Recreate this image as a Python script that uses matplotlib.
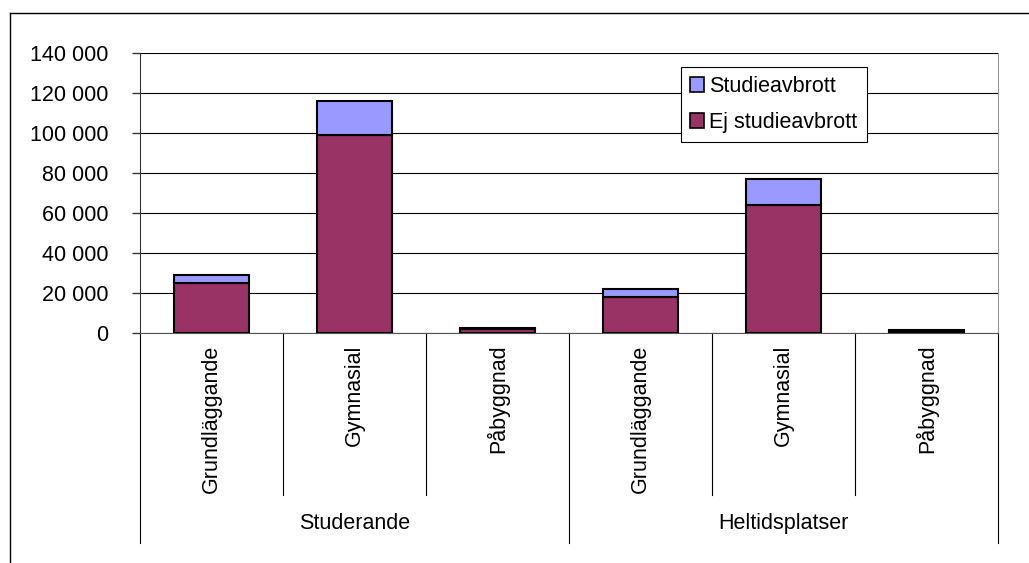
import matplotlib
matplotlib.use("Agg")
import matplotlib.pyplot as plt
from matplotlib.lines import Line2D
from matplotlib.patches import Patch

plt.rcParams['font.family'] = ['Liberation Sans', 'DejaVu Sans']

# data
groups = ["Studerande", "Heltidsplatser"]
levels = ["Grundläggande", "Gymnasial", "Påbyggnad"]
ej_avbrott = [25000, 99000, 2000, 18000, 64000, 1200]
avbrott = [4000, 17000, 300, 4000, 13000, 300]
yticks = [0, 20000, 40000, 60000, 80000, 100000, 120000, 140000]

purple = '#993366'
blue = '#9999FF'
fs = 15.5

fig = plt.figure(figsize=(10.29, 5.63), dpi=100)
ax = fig.add_axes([140/1029, 230/563, 858/1029, 280/563])

x = list(range(len(ej_avbrott)))
ax.bar(x, ej_avbrott, width=0.52, color=purple, edgecolor='black', linewidth=1.5, zorder=3)
ax.bar(x, avbrott, width=0.52, bottom=ej_avbrott, color=blue, edgecolor='black', linewidth=1.5, zorder=3)

ax.set_xlim(-0.5, len(x) - 0.5)
ax.set_ylim(0, 140000)
ax.set_yticks(yticks)
ax.set_yticklabels([f"{v:,}".replace(",", " ") for v in yticks], fontsize=fs)
ax.yaxis.grid(True, color='black', linewidth=0.8, zorder=0)
ax.tick_params(axis='y', length=6, width=1, pad=17, color='#333333')

ax.set_xticks(x)
ax.set_xticklabels(levels * len(groups), rotation=90, va='top', fontsize=fs)
ax.tick_params(axis='x', length=0, pad=8.5)

ax.spines['top'].set_visible(False)
ax.spines['right'].set_color('#999999')
ax.spines['left'].set_color('#333333')
ax.spines['bottom'].set_color('#555555')

# category separators below the axis
for i in range(len(x) + 1):
    xs = i - 0.5
    low = -0.75 if i % 3 == 0 else -0.5786
    ax.plot([xs, xs], [0, low], transform=ax.get_xaxis_transform(),
            color='black', linewidth=0.8, clip_on=False)

for gi, g in enumerate(groups):
    ax.text(gi * 3 + 1, -0.679, g, transform=ax.get_xaxis_transform(),
            ha='center', va='center', fontsize=fs)

handles = [Patch(facecolor=blue, edgecolor='black', linewidth=1.2),
           Patch(facecolor=purple, edgecolor='black', linewidth=1.2)]
leg = fig.legend(handles, ["Studieavbrott", "Ej studieavbrott"],
                 loc='upper left', bbox_to_anchor=(681/1029, 1 - 67/563),
                 fontsize=fs, handlelength=0.65, handleheight=0.65,
                 handletextpad=0.25, labelspacing=0.7, borderpad=0.42,
                 borderaxespad=0, fancybox=False, framealpha=1)
leg.get_frame().set_edgecolor('black')
leg.get_frame().set_linewidth(0.8)

# outer chart border
fig.add_artist(Line2D([10/1029, 10/1029], [0, 1 - 13/563], color='black', linewidth=1))
fig.add_artist(Line2D([10/1029, 1], [1 - 13/563, 1 - 13/563], color='black', linewidth=1))

fig.savefig("out.png", dpi=100)
